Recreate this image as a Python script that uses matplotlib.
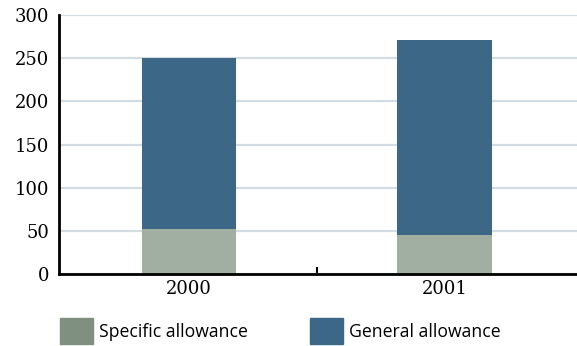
import matplotlib
matplotlib.use("Agg")
import matplotlib.pyplot as plt
from matplotlib.patches import Rectangle

years = ["2000", "2001"]
specific = [52, 45]
general = [198, 226]
y_ticks = [0, 50, 100, 150, 200, 250, 300]

c_specific = "#a1afa2"
c_specific_key = "#7f9080"
c_general = "#3d6787"

fig = plt.figure(figsize=(5.77, 3.46), dpi=100)
ax = fig.add_axes([59 / 577, 1 - 274 / 346, 1 - 59 / 577, (274 - 15) / 346])

x = list(range(len(years)))
ax.bar(x, specific, width=0.37, color=c_specific, zorder=3)
ax.bar(x, general, width=0.37, bottom=specific, color=c_general, zorder=3)

ax.set_xlim(-0.51, 1.52)
ax.set_ylim(0, 300)
ax.set_yticks(y_ticks)
ax.set_yticklabels([str(v) for v in y_ticks], fontfamily="DejaVu Serif", fontsize=13)
ax.yaxis.grid(True, color="#d3dce2", linewidth=1.6, zorder=0)
ax.tick_params(axis="y", length=0, pad=7)

ax.set_xticks([0.5], minor=False)
ax.set_xticklabels([""])
ax.tick_params(axis="x", direction="in", length=5, width=1.5, color="black")
for xi, lab in zip(x, years):
    ax.text(xi, -7, lab, ha="center", va="top", fontfamily="DejaVu Serif",
            fontsize=13, transform=ax.transData)

for s in ["top", "right"]:
    ax.spines[s].set_visible(False)
for s in ["left", "bottom"]:
    ax.spines[s].set_linewidth(2)
    ax.spines[s].set_zorder(4)

# legend keys
W, H = 577, 346
for (px, label, col) in [(60, "Specific allowance", c_specific_key),
                         (310, "General allowance", c_general)]:
    fig.add_artist(Rectangle((px / W, 1 - 344 / H), 33 / W, 26 / H,
                             transform=fig.transFigure, color=col))
    fig.text((px + 39) / W, 1 - 332 / H, label, fontfamily="Open Sans",
             fontsize=12.7, va="center", ha="left")

fig.savefig("out.png", dpi=100)
